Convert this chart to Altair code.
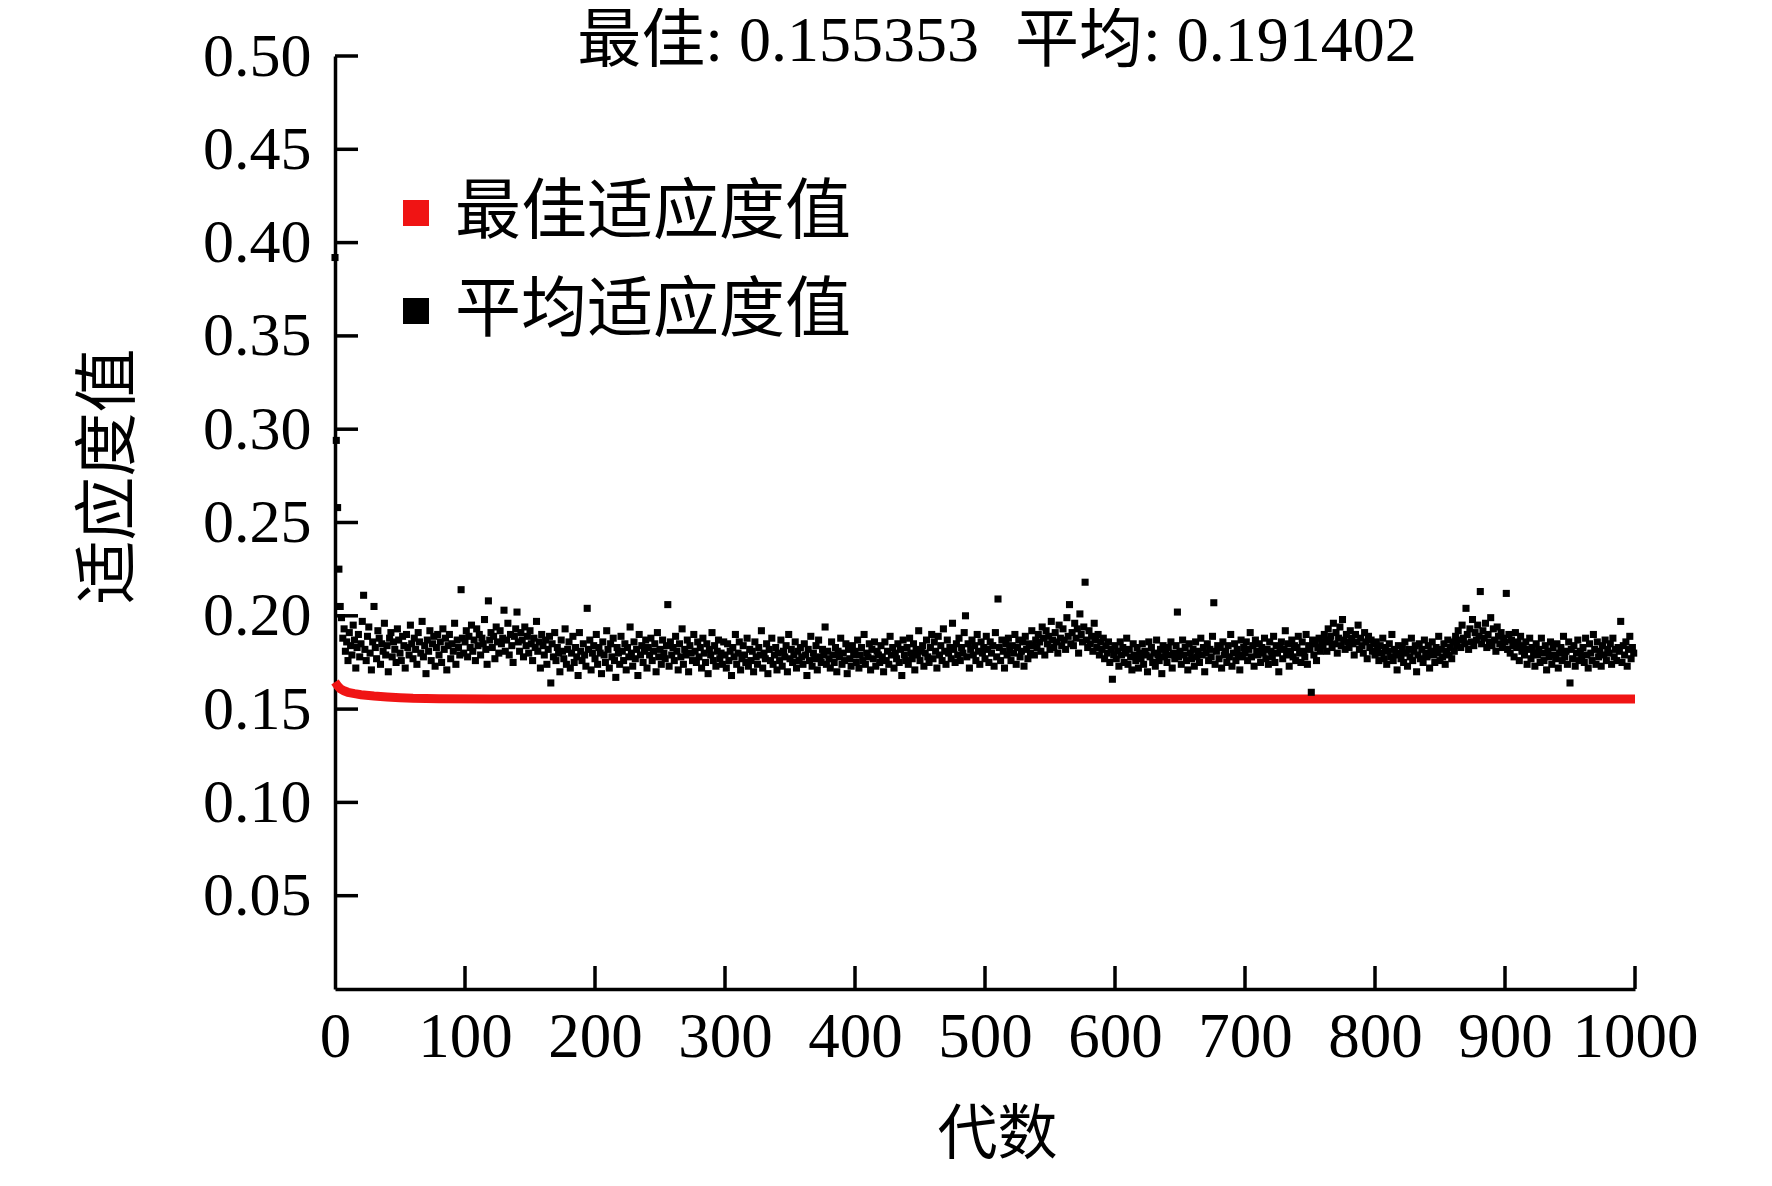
import altair as alt
import pandas as pd

FONT = "'Liberation Serif', 'Noto Sans CJK SC', serif"

title_parts = ["最佳: 0.155353", "平均: 0.191402"]
x_title = "代数"
y_title = "适应度值"
series_names = ["最佳适应度值", "平均适应度值"]
series_colors = ["#f01414", "#000000"]

x_tick_values = [100, 200, 300, 400, 500, 600, 700, 800, 900, 1000]
y_tick_values = [0.05, 0.10, 0.15, 0.20, 0.25, 0.30, 0.35, 0.40, 0.45, 0.50]

# best fitness (red line)
best_gens = [0, 2, 4, 7, 10, 15, 20, 30, 40, 50, 60, 80, 120, 200, 400, 700, 1000]
best_values = [0.1645, 0.1625, 0.1610, 0.1598, 0.1590, 0.1583, 0.1577, 0.1570, 0.1565,
               0.1561, 0.1558, 0.1556, 0.15545, 0.15538, 0.155353, 0.155353, 0.155353]

# mean fitness per generation (black squares)
avg_values = [
    .392, .294, .258, .225, .205, .199, .188, .193, .181, .186, .176, .191, .184, .179, .195, .187, .172, .183, .190, .178,
    .185, .197, .211, .182, .176, .189, .194, .180, .171, .186, .205, .183, .177, .192, .188, .174, .185, .181, .196, .179,
    .184, .170, .188, .191, .178, .186, .182, .175, .193, .187, .180, .176, .189, .184, .172, .190, .183, .179, .195, .185,
    .177, .188, .182, .174, .191, .186, .180, .197, .178, .184, .169, .187, .181, .192, .176, .185, .189, .173, .183, .190,
    .179, .186, .175, .193, .182, .188, .171, .184, .190, .177, .185, .181, .196, .174, .187, .183, .179, .214, .188, .180,
    .186, .192, .178, .189, .183, .195, .181, .187, .176, .193, .184, .190, .179, .188, .185, .198, .182, .174, .208, .187,
    .191, .183, .189, .177, .194, .186, .180, .192, .185, .188, .203, .181, .187, .196, .179, .190, .184, .175, .189, .193,
    .202, .186, .181, .191, .187, .178, .194, .184, .189, .180, .192, .185, .176, .188, .183, .197, .181, .186, .172, .190,
    .184, .179, .187, .174, .182, .189, .164, .185, .178, .191, .176, .183, .180, .170, .187, .181, .177, .193, .174, .182,
    .186, .172, .180, .189, .175, .183, .178, .168, .191, .181, .176, .185, .179, .173, .204, .182, .187, .171, .180, .184,
    .177, .190, .174, .183, .180, .169, .186, .179, .175, .192, .182, .172, .185, .178, .188, .176, .167, .183, .180, .174,
    .189, .181, .176, .185, .171, .183, .178, .194, .180, .173, .186, .177, .182, .168, .190, .179, .184, .175, .181, .187,
    .172, .183, .179, .188, .176, .181, .185, .170, .191, .178, .182, .174, .187, .180, .177, .184, .206, .173, .186, .179,
    .183, .176, .189, .181, .171, .185, .178, .193, .174, .182, .179, .187, .170, .184, .180, .176, .190, .181, .175, .186,
    .178, .183, .172, .188, .180, .175, .185, .169, .182, .179, .191, .176, .184, .173, .181, .187, .177, .180, .174, .186,
    .179, .172, .185, .176, .181, .168, .183, .178, .190, .174, .180, .186, .171, .177, .184, .179, .175, .188, .173, .182,
    .176, .181, .170, .186, .178, .174, .183, .179, .192, .172, .180, .177, .185, .169, .182, .176, .188, .174, .179, .183,
    .171, .180, .176, .187, .173, .181, .178, .184, .170, .190, .177, .182, .175, .179, .186, .172, .181, .176, .183, .178,
    .174, .185, .179, .168, .182, .176, .189, .173, .180, .177, .184, .171, .187, .178, .175, .182, .179, .194, .174, .181,
    .177, .172, .186, .179, .175, .183, .170, .181, .178, .188, .174, .180, .176, .185, .169, .182, .177, .173, .184, .179,
    .181, .175, .187, .172, .179, .183, .176, .190, .174, .180, .178, .185, .171, .182, .177, .186, .173, .181, .179, .175,
    .184, .178, .170, .186, .176, .181, .174, .189, .179, .183, .172, .180, .177, .185, .175, .182, .168, .187, .179, .176,
    .183, .174, .188, .180, .177, .185, .171, .182, .179, .192, .176, .181, .184, .173, .180, .187, .178, .175, .183, .190,
    .177, .186, .181, .172, .189, .179, .184, .176, .193, .181, .174, .187, .180, .183, .177, .196, .182, .175, .185, .179,
    .188, .176, .183, .180, .191, .200, .178, .185, .172, .182, .187, .179, .184, .176, .190, .181, .174, .186, .180, .183,
    .177, .189, .182, .175, .186, .180, .184, .173, .191, .178, .209, .183, .176, .187, .181, .172, .185, .179, .188, .182,
    .176, .184, .180, .190, .174, .183, .187, .178, .181, .186, .173, .189, .182, .177, .185, .180, .192, .184, .179, .187,
    .183, .190, .186, .181, .194, .188, .179, .192, .185, .189, .182, .197, .187, .183, .191, .186, .180, .195, .188, .184,
    .193, .187, .182, .199, .189, .206, .185, .191, .184, .196, .188, .193, .180, .201, .190, .186, .194, .218, .187, .183,
    .192, .185, .189, .181, .196, .187, .183, .190, .179, .186, .182, .188, .177, .184, .180, .186, .175, .182, .166, .179,
    .184, .177, .181, .173, .186, .179, .183, .175, .180, .188, .174, .182, .178, .171, .185, .179, .176, .183, .172, .180,
    .177, .185, .174, .181, .179, .170, .186, .178, .183, .175, .180, .173, .187, .179, .176, .182, .169, .184, .178, .181,
    .175, .183, .179, .186, .172, .180, .177, .184, .202, .178, .181, .174, .187, .179, .183, .176, .171, .185, .180, .177,
    .182, .173, .186, .178, .181, .175, .188, .179, .183, .170, .180, .185, .176, .182, .178, .189, .207, .174, .181, .184,
    .177, .183, .172, .186, .179, .181, .175, .184, .178, .190, .173, .180, .185, .176, .182, .179, .171, .187, .178, .183,
    .180, .186, .176, .182, .191, .178, .184, .173, .187, .181, .179, .185, .175, .183, .180, .188, .177, .182, .174, .186,
    .181, .178, .189, .175, .184, .180, .170, .183, .186, .177, .182, .192, .179, .185, .173, .181, .187, .178, .184, .176,
    .183, .189, .180, .175, .186, .181, .178, .190, .174, .184, .182, .159, .187, .179, .185, .176, .183, .188, .181, .186,
    .184, .190, .187, .181, .193, .186, .189, .183, .196, .185, .191, .180, .188, .194, .184, .198, .187, .182, .190, .186,
    .183, .192, .188, .185, .179, .190, .186, .195, .182, .188, .184, .180, .191, .186, .177, .189, .183, .187, .181, .185,
    .179, .186, .182, .176, .184, .180, .188, .177, .183, .174, .181, .185, .178, .190, .176, .182, .179, .171, .184, .180,
    .177, .183, .175, .186, .180, .173, .182, .178, .188, .176, .181, .184, .170, .179, .185, .177, .182, .175, .187, .180,
    .178, .184, .172, .181, .186, .179, .175, .183, .180, .189, .176, .182, .178, .185, .174, .181, .187, .179, .183, .177,
    .186, .181, .189, .184, .192, .187, .183, .195, .188, .185, .204, .190, .182, .193, .186, .198, .184, .191, .187, .195,
    .189, .213, .185, .192, .188, .196, .183, .190, .186, .199, .184, .193, .187, .181, .194, .189, .185, .191, .183, .188,
    .186, .212, .182, .190, .180, .187, .184, .178, .191, .183, .186, .176, .189, .181, .184, .179, .186, .174, .182, .188,
    .177, .183, .180, .173, .185, .179, .182, .175, .188, .180, .176, .184, .171, .181, .178, .186, .174, .183, .179, .177,
    .185, .172, .180, .183, .176, .189, .178, .181, .174, .186, .164, .182, .177, .184, .173, .180, .187, .176, .181, .178,
    .183, .175, .188, .179, .172, .185, .180, .176, .190, .182, .174, .186, .178, .181, .173, .184, .179, .187, .176, .182,
    .180, .185, .174, .188, .178, .182, .176, .183, .181, .197, .175, .184, .179, .186, .173, .182, .189, .177, .183, .180,
]

W, H = 1300, 933

avg_df = pd.DataFrame({
    "gen": list(range(len(avg_values))),
    "value": avg_values,
    "series": [series_names[1]] * len(avg_values),
})
best_df = pd.DataFrame({"gen": best_gens, "value": best_values})
xt_df = pd.DataFrame({"gen": x_tick_values})
yt_df = pd.DataFrame({"value": y_tick_values})

x_scale = alt.Scale(domain=[0, 1000], nice=False, zero=False)
y_scale = alt.Scale(domain=[0, 0.5], nice=False)

x_axis = alt.Axis(
    values=[0] + x_tick_values, format="d", title=x_title, grid=False,
    ticks=False, tickSize=0, domainColor="black", domainWidth=3.5,
    labelFont=FONT, labelFontSize=63, labelColor="black", labelPadding=17,
    labelOverlap=False, labelFlush=False,
    titleFont=FONT, titleFontSize=60, titleFontWeight="normal", titleColor="black",
    titleX=662, titleY=146, titleBaseline="middle", titleAlign="center",
)
y_axis = alt.Axis(
    values=y_tick_values, format=".2f", title=y_title, grid=False,
    ticks=False, tickSize=0, domainColor="black", domainWidth=3.5,
    labelFont=FONT, labelFontSize=62, labelColor="black", labelPadding=24,
    labelOverlap=False, labelFlush=False,
    titleFont=FONT, titleFontSize=64, titleFontWeight="normal", titleColor="black",
    titleX=-226, titleY=420, titleAngle=270, titleBaseline="middle", titleAlign="center",
)

X = alt.X("gen:Q", scale=x_scale, axis=x_axis)
Y = alt.Y("value:Q", scale=y_scale, axis=y_axis)

best_line = alt.Chart(best_df).mark_line(
    color=series_colors[0], strokeWidth=9, strokeCap="butt", interpolate="linear"
).encode(x=X, y=Y)

avg_points = alt.Chart(avg_df).mark_square(size=50, opacity=1).encode(
    x=X,
    y=Y,
    color=alt.Color(
        "series:N",
        scale=alt.Scale(domain=series_names, range=series_colors),
        legend=alt.Legend(
            orient="none", legendX=48, legendY=124, title=None,
            symbolType="square", symbolSize=676, symbolStrokeWidth=0, symbolOpacity=1,
            labelFont=FONT, labelFontSize=66, labelColor="black", labelOffset=6,
            rowPadding=32, padding=0, labelLimit=800,
        ),
    ),
)

x_ticks = alt.Chart(xt_df).mark_rule(color="black", strokeWidth=3.5).encode(
    x=X,
    y=alt.value(H),
    y2=alt.value(H - 23),
)
y_ticks = alt.Chart(yt_df).mark_rule(color="black", strokeWidth=3.5).encode(
    y=Y,
    x=alt.value(0),
    x2=alt.value(23),
)

title_left = alt.Chart(pd.DataFrame({"label": [title_parts[0]]})).mark_text(
    font=FONT, fontSize=64, color="black", align="right", baseline="alphabetic"
).encode(text="label:N", x=alt.value(644), y=alt.value(5))

title_right = alt.Chart(pd.DataFrame({"label": [title_parts[1]]})).mark_text(
    font=FONT, fontSize=64, color="black", align="left", baseline="alphabetic"
).encode(text="label:N", x=alt.value(680), y=alt.value(5))

chart = (
    alt.layer(best_line, avg_points, x_ticks, y_ticks, title_left, title_right)
    .properties(
        width=W,
        height=H,
        autosize=alt.AutoSizeParams(type="none"),
        padding={"left": 327, "top": 48, "right": 125, "bottom": 185},
    )
    .configure(background="white")
    .configure_view(stroke="transparent", strokeWidth=0)
)

chart.save("out.html", embed_options={"renderer": "svg", "actions": False})
